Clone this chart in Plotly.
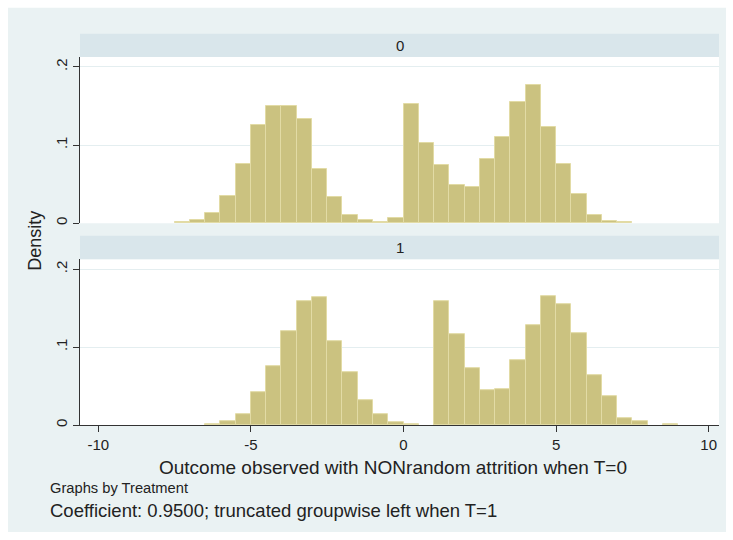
import plotly.graph_objects as go

# Bin left edges (width 0.5) and densities
bin_width = 0.5
t0_edges = [-7.5, -7.0, -6.5, -6.0, -5.5, -5.0, -4.5, -4.0, -3.5, -3.0, -2.5, -2.0, -1.5, -1.0, -0.5,
            0.0, 0.5, 1.0, 1.5, 2.0, 2.5, 3.0, 3.5, 4.0, 4.5, 5.0, 5.5, 6.0, 6.5, 7.0]
t0_density = [0.0017, 0.004, 0.0128, 0.0346, 0.0756, 0.126, 0.150, 0.1496, 0.134, 0.0697, 0.0333, 0.0098, 0.0038, 0.001, 0.006,
              0.153, 0.1026, 0.0744, 0.0487, 0.0466, 0.0825, 0.110, 0.1556, 0.177, 0.1235, 0.0752, 0.0372, 0.0107, 0.003, 0.0013]

t1_edges = [-6.5, -6.0, -5.5, -5.0, -4.5, -4.0, -3.5, -3.0, -2.5, -2.0, -1.5, -1.0, -0.5, 0.0,
            1.0, 1.5, 2.0, 2.5, 3.0, 3.5, 4.0, 4.5, 5.0, 5.5, 6.0, 6.5, 7.0, 7.5, 8.5]
t1_density = [0.001, 0.0043, 0.0145, 0.042, 0.075, 0.121, 0.159, 0.164, 0.108, 0.068, 0.0323, 0.014, 0.0034, 0.0013,
              0.159, 0.116, 0.0728, 0.0443, 0.046, 0.0834, 0.128, 0.165, 0.155, 0.118, 0.0634, 0.0366, 0.0089, 0.0051, 0.0013]

x_ticks = [-10, -5, 0, 5, 10]
y_ticks = [0, 0.1, 0.2]
y_ticktext = ["0", ".1", ".2"]
panel_labels = ["0", "1"]

FILL = "#CBC280"
EDGE = "#E2DBA5"
BG = "#EAF2F3"
STRIP = "#D9E6EB"
GRID = "#E4EEF0"
AXC = "#333333"
FONT = "Liberation Sans"

W, H = 733, 540
L, R, T, B = 80, 719, 57.3, 425.0
pw, ph = R - L, B - T

def py(ypix):
    return (B - ypix) / ph

def px(xpix):
    return (xpix - L) / pw

fig = go.Figure()
for edges, dens, ax in [(t0_edges, t0_density, ""), (t1_edges, t1_density, "2")]:
    fig.add_trace(go.Bar(
        x=[e + bin_width / 2 for e in edges], y=dens, width=bin_width,
        marker=dict(color=FILL, line=dict(color=EDGE, width=1)),
        xaxis="x" + ax, yaxis="y" + ax, showlegend=False, hoverinfo="x+y"))

xr = [(L - 98.3) / 30.52 - 10, (R - 98.3) / 30.52 - 10]
yr = [0, 0.2128]

yax = dict(range=yr, tickvals=y_ticks, ticktext=y_ticktext, tickangle=-90,
           ticks="outside", ticklen=6, tickcolor=AXC, tickwidth=1,
           showline=True, linecolor=AXC, linewidth=1, showgrid=True, gridcolor=GRID,
           gridwidth=1, zeroline=False, tickfont=dict(family=FONT, size=15, color="#222222"),
           fixedrange=True)

shapes = [
    dict(type="rect", xref="paper", yref="paper", x0=px(8), x1=px(726), y0=py(532), y1=py(8),
         fillcolor=BG, line=dict(width=0), layer="below"),
    dict(type="rect", xref="paper", yref="paper", x0=0, x1=1, y0=py(223.3), y1=1,
         fillcolor="white", line=dict(width=0), layer="below"),
    dict(type="rect", xref="paper", yref="paper", x0=0, x1=1, y0=0, y1=py(259.3),
         fillcolor="white", line=dict(width=0), layer="below"),
    dict(type="rect", xref="paper", yref="paper", x0=0, x1=1, y0=1, y1=py(34),
         fillcolor=STRIP, line=dict(width=0), layer="below"),
    dict(type="rect", xref="paper", yref="paper", x0=0, x1=1, y0=py(259.3), y1=py(236),
         fillcolor=STRIP, line=dict(width=0), layer="below"),
]

annotations = [
    dict(text=panel_labels[0], x=0.5, y=py(45.6), xref="paper", yref="paper", showarrow=False,
         font=dict(family=FONT, size=15, color="#222222"), xanchor="center", yanchor="middle"),
    dict(text=panel_labels[1], x=0.5, y=py(247.6), xref="paper", yref="paper", showarrow=False,
         font=dict(family=FONT, size=15, color="#222222"), xanchor="center", yanchor="middle"),
    dict(text="Density", x=px(35), y=py(241), xref="paper", yref="paper", showarrow=False,
         textangle=-90, font=dict(family=FONT, size=18, color="#222222"),
         xanchor="center", yanchor="middle"),
    dict(text="Outcome observed with NONrandom attrition when T=0", x=px(157), y=py(467),
         xref="paper", yref="paper", showarrow=False,
         font=dict(family=FONT, size=19, color="#222222"), xanchor="left", yanchor="middle"),
    dict(text="Graphs by Treatment", x=px(48), y=py(488), xref="paper", yref="paper",
         showarrow=False, font=dict(family=FONT, size=14.7, color="#222222"),
         xanchor="left", yanchor="middle"),
    dict(text="Coefficient: 0.9500; truncated groupwise left when T=1", x=px(48), y=py(510),
         xref="paper", yref="paper", showarrow=False,
         font=dict(family=FONT, size=18.5, color="#222222"), xanchor="left", yanchor="middle"),
]

fig.update_layout(
    width=W, height=H,
    margin=dict(l=L, r=W - R, t=T, b=H - B, pad=0),
    paper_bgcolor="white", plot_bgcolor="rgba(0,0,0,0)",
    bargap=0, barmode="overlay",
    xaxis=dict(domain=[0, 1], range=xr, anchor="y", showticklabels=False, ticks="",
               showline=False, showgrid=False, zeroline=False, fixedrange=True),
    yaxis=dict(domain=[py(223.3), 1], anchor="x", **yax),
    xaxis2=dict(domain=[0, 1], range=xr, anchor="y2", tickvals=x_ticks,
                ticktext=[str(v) for v in x_ticks], ticks="outside", ticklen=6,
                tickcolor=AXC, showline=True, linecolor=AXC, linewidth=1,
                showgrid=False, zeroline=False,
                tickfont=dict(family=FONT, size=15, color="#222222"), fixedrange=True),
    yaxis2=dict(domain=[0, py(259.3)], anchor="x2", **yax),
    shapes=shapes, annotations=annotations,
    font=dict(family=FONT),
)

fig.write_html("out.html")
